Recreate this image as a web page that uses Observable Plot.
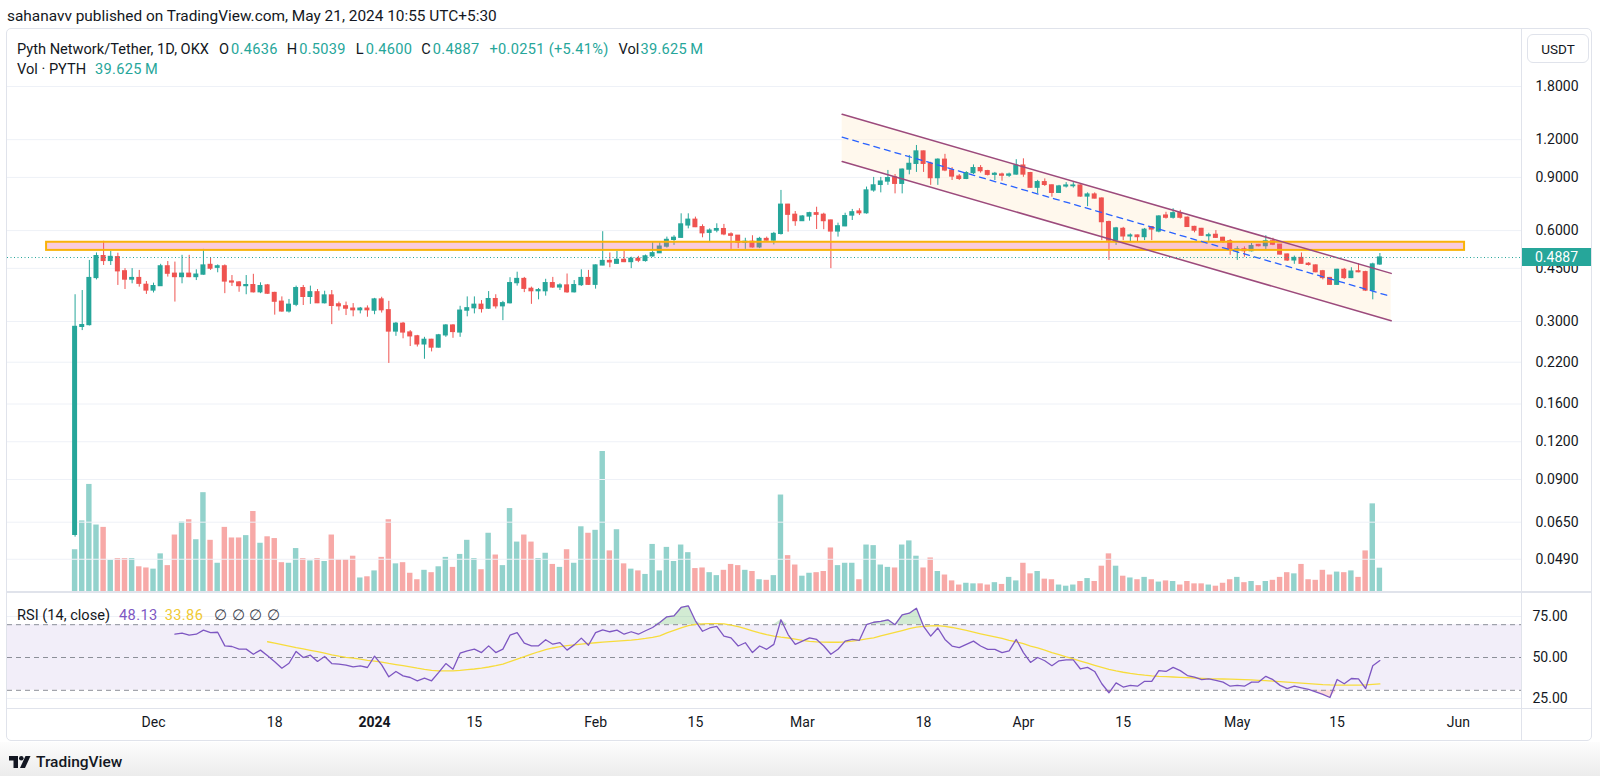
<!DOCTYPE html>
<html><head><meta charset="utf-8">
<script src="https://cdn.jsdelivr.net/npm/d3@7"></script>
<script src="https://cdn.jsdelivr.net/npm/@observablehq/plot@0.6"></script>
<style>
html,body{margin:0;padding:0;background:#fff;}
body{width:1600px;height:776px;position:relative;overflow:hidden;font-family:Roboto,"Noto Sans",sans-serif;color:#131722;}
.abs{position:absolute;white-space:nowrap;}
.t{color:#131722}.g{color:#26a69a;letter-spacing:0.3px}
</style></head><body>
<script>
// ---------- data ----------
const firstDay = "2023-11-20";
const lastDayExclusive = "2024-05-22";
const open = [
0.059,0.288,0.292,0.418,0.494,0.476,0.490,0.440,0.413,0.418,
0.397,0.380,0.393,0.457,0.432,0.421,0.432,0.421,0.429,0.462,
0.452,0.457,0.407,0.404,0.393,0.396,0.375,0.395,0.373,0.349,
0.324,0.341,0.387,0.362,0.375,0.345,0.366,0.342,0.337,0.331,
0.327,0.331,0.326,0.355,0.327,0.278,0.295,0.276,0.268,0.252,
0.261,0.246,0.270,0.291,0.276,0.326,0.332,0.341,0.331,0.356,
0.337,0.345,0.402,0.415,0.385,0.378,0.378,0.402,0.389,0.395,
0.375,0.396,0.418,0.397,0.460,0.476,0.466,0.480,0.472,0.484,
0.476,0.493,0.505,0.531,0.559,0.568,0.624,0.652,0.616,0.590,
0.600,0.607,0.583,0.577,0.547,0.551,0.528,0.563,0.556,0.585,
0.731,0.677,0.645,0.668,0.685,0.677,0.648,0.596,0.620,0.673,
0.694,0.685,0.815,0.850,0.872,0.900,0.857,0.955,0.998,1.097,
0.998,0.895,1.030,0.949,0.906,0.890,0.930,0.966,0.944,0.918,
0.920,0.912,0.920,0.985,0.930,0.832,0.868,0.847,0.800,0.840,
0.842,0.846,0.778,0.790,0.766,0.640,0.556,0.608,0.574,0.578,
0.571,0.616,0.596,0.673,0.662,0.685,0.662,0.617,0.608,0.575,
0.581,0.568,0.553,0.516,0.520,0.513,0.538,0.533,0.553,0.539,
0.500,0.478,0.487,0.466,0.460,0.440,0.418,0.397,0.445,0.418,
0.440,0.437,0.380,0.4636];
const high = [
0.368,0.380,0.478,0.506,0.553,0.512,0.505,0.449,0.449,0.443,
0.407,0.402,0.464,0.474,0.472,0.497,0.497,0.445,0.520,0.488,
0.462,0.462,0.426,0.407,0.426,0.430,0.403,0.398,0.375,0.362,
0.355,0.393,0.395,0.393,0.383,0.378,0.380,0.348,0.348,0.344,
0.334,0.338,0.358,0.361,0.350,0.298,0.298,0.280,0.270,0.266,
0.262,0.272,0.293,0.293,0.337,0.362,0.362,0.352,0.377,0.368,
0.350,0.419,0.437,0.420,0.390,0.386,0.414,0.420,0.400,0.431,
0.410,0.445,0.443,0.462,0.595,0.506,0.512,0.512,0.490,0.493,
0.498,0.550,0.547,0.571,0.577,0.682,0.682,0.665,0.627,0.608,
0.632,0.629,0.590,0.578,0.566,0.577,0.570,0.571,0.592,0.815,
0.733,0.694,0.672,0.690,0.717,0.685,0.650,0.635,0.685,0.705,
0.709,0.836,0.900,0.900,0.949,0.920,0.960,1.064,1.148,1.100,
1.010,1.037,1.073,0.970,0.920,0.940,0.990,0.985,0.950,0.935,
0.930,0.930,1.030,1.037,0.935,0.880,0.890,0.850,0.847,0.865,
0.865,0.850,0.800,0.800,0.770,0.645,0.615,0.615,0.585,0.580,
0.610,0.618,0.672,0.690,0.709,0.700,0.665,0.620,0.610,0.588,
0.600,0.570,0.560,0.531,0.530,0.544,0.540,0.577,0.566,0.540,
0.502,0.494,0.506,0.470,0.462,0.443,0.420,0.447,0.450,0.452,
0.466,0.440,0.468,0.5039];
const low = [
0.058,0.280,0.290,0.412,0.460,0.460,0.395,0.383,0.400,0.390,
0.369,0.373,0.392,0.421,0.348,0.400,0.419,0.410,0.427,0.443,
0.435,0.371,0.392,0.375,0.368,0.373,0.371,0.369,0.315,0.322,
0.320,0.336,0.339,0.342,0.344,0.343,0.293,0.325,0.314,0.311,
0.318,0.310,0.316,0.320,0.218,0.268,0.263,0.248,0.247,0.225,
0.238,0.245,0.266,0.264,0.266,0.311,0.318,0.320,0.329,0.330,
0.302,0.343,0.393,0.374,0.342,0.354,0.364,0.386,0.380,0.372,
0.373,0.392,0.395,0.384,0.459,0.452,0.464,0.470,0.449,0.470,
0.472,0.490,0.504,0.525,0.536,0.566,0.608,0.614,0.568,0.551,
0.590,0.577,0.520,0.523,0.520,0.525,0.523,0.554,0.538,0.580,
0.593,0.620,0.643,0.645,0.605,0.604,0.449,0.571,0.618,0.648,
0.673,0.680,0.804,0.800,0.847,0.794,0.794,0.918,0.935,0.935,
0.847,0.847,0.940,0.879,0.879,0.885,0.920,0.930,0.910,0.879,
0.874,0.900,0.915,0.901,0.830,0.794,0.840,0.774,0.798,0.830,
0.830,0.774,0.720,0.764,0.556,0.478,0.536,0.556,0.547,0.550,
0.556,0.556,0.590,0.655,0.655,0.655,0.615,0.590,0.575,0.553,
0.565,0.544,0.497,0.478,0.490,0.510,0.530,0.518,0.535,0.498,
0.474,0.464,0.465,0.458,0.435,0.412,0.396,0.395,0.413,0.416,
0.435,0.377,0.354,0.4600];
const close = [
0.288,0.292,0.418,0.494,0.476,0.491,0.440,0.413,0.418,0.400,
0.380,0.393,0.457,0.432,0.421,0.432,0.421,0.429,0.460,0.449,
0.457,0.407,0.404,0.393,0.396,0.375,0.393,0.371,0.349,0.324,
0.341,0.387,0.362,0.375,0.345,0.366,0.338,0.337,0.331,0.327,
0.331,0.327,0.355,0.327,0.278,0.295,0.276,0.268,0.252,0.261,
0.246,0.270,0.291,0.277,0.326,0.332,0.341,0.330,0.356,0.337,
0.345,0.402,0.415,0.385,0.378,0.381,0.402,0.389,0.395,0.375,
0.396,0.418,0.397,0.460,0.476,0.471,0.480,0.472,0.484,0.477,
0.493,0.505,0.531,0.559,0.568,0.629,0.652,0.616,0.588,0.600,
0.607,0.583,0.577,0.547,0.551,0.528,0.563,0.556,0.585,0.731,
0.677,0.645,0.668,0.685,0.677,0.645,0.596,0.620,0.670,0.690,
0.685,0.815,0.847,0.872,0.895,0.857,0.955,0.998,1.097,0.998,
0.895,1.030,0.949,0.906,0.890,0.930,0.966,0.944,0.918,0.925,
0.912,0.920,0.985,0.920,0.832,0.868,0.850,0.800,0.840,0.846,
0.846,0.778,0.790,0.766,0.640,0.556,0.610,0.574,0.578,0.571,
0.604,0.605,0.668,0.662,0.685,0.662,0.617,0.600,0.577,0.579,
0.568,0.550,0.516,0.520,0.513,0.533,0.533,0.553,0.539,0.500,
0.478,0.487,0.466,0.462,0.437,0.418,0.397,0.445,0.418,0.439,
0.437,0.380,0.4636,0.4887];
// volume, millions of PYTH
const volume = [
71,120,182,113,109,53,56,56,56,42,
40,38,64,44,96,118,122,88,168,87,
48,109,91,91,95,136,82,93,90,49,
48,73,56,52,56,51,96,54,54,60,
23,25,35,58,122,47,49,31,20,36,
32,42,58,41,63,87,56,37,99,62,
44,141,84,96,84,56,65,46,41,71,
48,110,99,104,238,69,105,47,38,35,
29,80,35,75,51,79,66,39,40,32,
27,36,46,44,36,34,20,19,27,164,
61,45,26,31,32,34,74,44,48,48,
20,79,78,45,41,40,79,86,60,40,
57,34,28,18,11,14,13,13,11,15,
12,24,18,48,30,34,21,20,11,9,
11,17,22,17,43,64,43,26,23,20,
24,20,16,18,17,11,17,13,13,11,
9,14,20,24,15,17,10,17,19,24,
32,30,46,20,19,36,28,33,32,35,
24,69,149,39.625];
const rsi = [
null,null,null,null,null,null,null,null,null,null,null,null,null,null,
64.2,64.8,63.6,64.2,66.7,65.2,65.4,57.1,56.7,55.1,
55.1,52.0,54.5,51.0,47.4,43.5,46.5,53.7,50.0,51.4,
47.6,50.6,46.3,45.9,45.3,44.3,44.9,43.9,50.8,45.5,
38.2,41.5,38.8,37.8,35.8,37.4,35.8,40.9,46.3,42.9,
52.6,54.1,55.1,53.0,57.1,53.0,55.1,63.6,65.2,58.7,
57.1,57.1,60.8,58.1,59.1,54.5,57.7,61.8,57.5,65.2,
66.9,65.7,66.7,64.2,65.7,64.2,66.3,68.3,71.3,74.8,
75.4,80.5,81.5,72.4,66,68,69,63,62,57,
59,53,57,55,58,73,64,58,60,62,
61,57,52,55,60,61,60.5,70,71.5,72,
73,70,76,77,80,69,63,68,61,57,
56,58,60,57,55,55,53,54,61,53,
47,50,48,45,48,48.5,48.5,43,44,41.5,
34,28.5,34.5,32,33,32.5,35.5,35.5,42,41.5,
44,42,39,38,36.5,37,36,35,32.5,33,
32.5,35,35,38.5,36.5,33,31,32.5,31.5,30.5,
29,27.5,25.6,36.6,34,37.2,37,31.1,45,48.13];
const rsiMa = [
null,null,null,null,null,null,null,null,null,null,null,null,null,null,
null,null,null,null,null,null,null,null,null,null,null,null,null,
59.6,58.8,57.8,56.9,56.0,55.2,54.4,53.6,52.6,51.6,
50.8,50.1,49.6,49.0,48.3,47.8,47.2,46.4,45.7,45.0,
44.3,43.5,42.8,42.2,41.9,41.8,41.9,42.2,42.6,43.0,
43.5,44.2,45.0,46.0,47.5,49.0,50.5,52.0,53.5,54.8,
55.8,56.6,57.2,57.7,58.2,58.6,59.0,59.4,59.7,60.0,
60.3,60.6,61.0,61.6,62.3,63.2,65.0,66.5,68.0,69.5,
70.2,70.5,70.7,70.7,70.5,69.8,68.8,67.6,66.3,65.0,
63.9,63.0,62.4,61.9,61.2,60.4,59.8,59.5,59.4,59.3,
59.3,59.5,60.0,60.6,61.3,62.0,63.2,64.3,65.3,66.4,
67.6,68.5,69.0,69.3,69.4,69.0,68.3,67.4,66.5,65.4,
64.4,63.5,62.6,61.6,60.5,59.6,58.4,57.0,55.8,54.5,
53.0,51.8,50.4,49.2,47.8,46.5,45.2,44.0,42.8,41.8,
41.0,40.3,39.7,39.2,38.8,38.5,38.3,38.1,37.9,37.7,
37.5,37.3,37.1,37.0,36.9,36.8,36.7,36.5,36.3,36.1,
35.9,35.6,35.3,35.0,34.7,34.4,34.1,33.8,33.5,33.3,
33.2,33.1,33.1,33.2,33.3,33.6,33.86];
const priceTicks = [1.8, 1.2, 0.9, 0.6, 0.45, 0.3, 0.22, 0.16, 0.12, 0.09, 0.065, 0.049];
const rsiTicks = [75, 50, 25];
const rsiBands = [70, 50, 30];
const timeTickDates = ["2023-12-01","2023-12-18","2024-01-15","2024-02-01","2024-02-15","2024-03-01","2024-03-18","2024-04-01","2024-04-15","2024-05-01","2024-05-15","2024-06-01"];
const timeTickLabels = ["Dec","18","15","Feb","15","Mar","18","Apr","15","May","15","Jun"];
const yearTickDate = "2024-01-01", yearTickLabel = "2024";
// drawings
const zoneTime = ["2023-11-16T00:00:00Z", "2024-06-01T21:00:00Z"];
const zonePrice = [0.516, 0.549];
const channelTime = ["2024-03-06T14:00:00Z", "2024-05-22T14:00:00Z"];
const channelUpper = [1.456, 0.433];
const channelMiddle = [1.223, 0.363];
const channelLower = [1.016, 0.302];
const lastPrice = 0.4887;

// ---------- build ----------
const UP = "#26a69a", DOWN = "#ef5350";
const dates = d3.utcDay.range(new Date(firstDay), new Date(lastDayExclusive));
const bars = dates.map((date, i) => ({date, o: open[i], h: high[i], l: low[i], c: close[i], v: volume[i], rsi: rsi[i], ma: rsiMa[i]}));
const isUp = d => d.c >= d.o, isDown = d => d.c < d.o;
const DAY = 864e5;
const x1 = k => d => new Date(+d.date - k * DAY), x2 = k => d => new Date(+d.date + k * DAY);
const t0 = Date.UTC(2023, 10, 20);
const xDomain = [new Date(t0 - 9.48 * DAY), new Date(t0 + 202.86 * DAY)];
const common = (h, mb) => ({width: 1600, height: h, marginLeft: 7, marginRight: 79, marginTop: 0, marginBottom: mb,
  x: {type: "utc", domain: xDomain, axis: null}});
const baseStyle = top => ({background: "none", position: "absolute", left: "0px", top: top + "px", overflow: "visible",
  fontFamily: "Roboto, 'Noto Sans', sans-serif", fontSize: "14px", color: "#131722", maxWidth: "none"});

const add = (html, css) => { const d = document.createElement("div"); d.className = "abs"; d.innerHTML = html; Object.assign(d.style, css); document.body.appendChild(d); return d; };

// footer + frame
add("", {left: "0px", top: "742px", width: "1600px", height: "34px", background: "linear-gradient(#fdfdfd,#ececec)"});
add("", {left: "6px", top: "28px", width: "1584px", height: "711px", border: "1px solid #e0e3eb", borderRadius: "5px", background: "#fff"});

// volume plot (behind candles)
const volPlot = Plot.plot({
  ...common(564, 1),
  y: {domain: [0, 957.1], axis: null},
  style: baseStyle(28),
  marks: [
    Plot.rect(bars, {filter: isUp, x1: x1(0.38), x2: x2(0.38), y1: 0, y2: "v", fill: UP, fillOpacity: 0.5}),
    Plot.rect(bars, {filter: isDown, x1: x1(0.38), x2: x2(0.38), y1: 0, y2: "v", fill: DOWN, fillOpacity: 0.5})
  ]
});
document.body.appendChild(volPlot);

const cIdx = [0, 1];
const pricePlot = Plot.plot({
  ...common(564, 0),
  y: {type: "log", domain: [0.03803, 2.8003], axis: null},
  style: baseStyle(28),
  marks: [
    Plot.ruleY(priceTicks, {stroke: "#eef1f7"}),
    Plot.areaY(cIdx, {x: i => new Date(channelTime[i]), y1: i => channelLower[i], y2: i => channelUpper[i], fill: "#fff1dc", fillOpacity: 0.5}),
    Plot.ruleX(bars, {filter: isUp, x: "date", y1: "l", y2: "h", stroke: UP}),
    Plot.ruleX(bars, {filter: isDown, x: "date", y1: "l", y2: "h", stroke: DOWN}),
    Plot.rect(bars, {filter: isUp, x1: x1(0.35), x2: x2(0.35), y1: d => Math.min(d.o, d.c), y2: d => Math.max(d.o, d.c), fill: UP, insetTop: -0.6, insetBottom: -0.6}),
    Plot.rect(bars, {filter: isDown, x1: x1(0.35), x2: x2(0.35), y1: d => Math.min(d.o, d.c), y2: d => Math.max(d.o, d.c), fill: DOWN, insetTop: -0.6, insetBottom: -0.6}),
    Plot.rect([0], {x1: new Date(zoneTime[0]), x2: new Date(zoneTime[1]), y1: zonePrice[0], y2: zonePrice[1], fill: "#f06292", fillOpacity: 0.33, stroke: "#f9b208", strokeWidth: 2}),
    Plot.line(cIdx, {x: i => new Date(channelTime[i]), y: i => channelUpper[i], stroke: "#9c4a7c", strokeWidth: 1.5}),
    Plot.line(cIdx, {x: i => new Date(channelTime[i]), y: i => channelLower[i], stroke: "#9c4a7c", strokeWidth: 1.5}),
    Plot.line(cIdx, {x: i => new Date(channelTime[i]), y: i => channelMiddle[i], stroke: "#2962ff", strokeWidth: 1.3, strokeDasharray: "6,5"}),
    Plot.ruleY([lastPrice], {stroke: UP, strokeDasharray: "1,2.5", strokeWidth: 1}),
    Plot.axisY(priceTicks, {anchor: "right", tickSize: 0, tickPadding: 14, tickFormat: d3.format(".4f"), fontSize: 14})
  ]
});
document.body.appendChild(pricePlot);

const rsiDef = bars.filter(d => d.rsi != null);
const rsiPlot = Plot.plot({
  ...common(149, 32),
  y: {domain: [18.293, 89.634], axis: null},
  style: baseStyle(592),
  marks: [
    Plot.ruleY([75, 25], {stroke: "#eef1f7"}),
    Plot.rect([0], {y1: 30, y2: 70, fill: "#7e57c2", fillOpacity: 0.1}),
    Plot.areaY(rsiDef, {x: "date", y1: 70, y2: d => Math.max(d.rsi, 70), fill: "#4caf50", fillOpacity: 0.25}),
    Plot.areaY(rsiDef, {x: "date", y1: d => Math.min(d.rsi, 30), y2: 30, fill: "#ef5350", fillOpacity: 0.2}),
    Plot.ruleY(rsiBands, {stroke: "#8c8f98", strokeDasharray: "5,4"}),
    Plot.line(bars, {x: "date", y: "ma", stroke: "#f7dc3c", strokeWidth: 1.3}),
    Plot.line(bars, {x: "date", y: "rsi", stroke: "#7e57c2", strokeWidth: 1.3}),
    Plot.axisY(rsiTicks, {anchor: "right", tickSize: 0, tickPadding: 11, tickFormat: d3.format(".2f"), fontSize: 14}),
    Plot.text(timeTickDates, {x: d => new Date(d), text: (d, i) => timeTickLabels[i], frameAnchor: "bottom", dy: 17, fontSize: 14, fill: "#131722"}),
    Plot.text([yearTickDate], {x: d => new Date(d), text: () => yearTickLabel, frameAnchor: "bottom", dy: 17, fontSize: 14, fontWeight: "bold", fill: "#131722"})
  ]
});
document.body.appendChild(rsiPlot);

// separators
add("", {left: "7px", top: "591px", width: "1584px", height: "2px", background: "#e0e3eb"});
add("", {left: "7px", top: "708px", width: "1584px", height: "1px", background: "#e0e3eb"});
add("", {left: "1521px", top: "29px", width: "1px", height: "711px", background: "#e0e3eb"});

// header + legends
add("sahanavv published on TradingView.com, May 21, 2024 10:55 UTC+5:30", {left: "7px", top: "6px", fontSize: "15.4px", lineHeight: "21px"});
const sp = (cls, txt, ml) => `<span class="${cls}" style="margin-left:${ml}px">${txt}</span>`;
add(sp("t", "Pyth Network/Tether, 1D, OKX", 0) + sp("t", "O", 10) + sp("g", "0.4636", 2) + sp("t", "H", 9) + sp("g", "0.5039", 2)
  + sp("t", "L", 10) + sp("g", "0.4600", 2) + sp("t", "C", 9) + sp("g", "0.4887", 2) + sp("g", "+0.0251 (+5.41%)", 10)
  + sp("t", "Vol", 10) + sp("g", "39.625&thinsp;M", 1), {left: "17px", top: "39px", fontSize: "14.6px", lineHeight: "20px"});
add(sp("t", "Vol · PYTH", 0) + sp("g", "39.625&thinsp;M", 9), {left: "17px", top: "59px", fontSize: "14.6px", lineHeight: "20px"});
add(`<span>RSI (14, close)</span><span style="color:#7e57c2;margin-left:9px;letter-spacing:0.4px">48.13</span><span style="color:#f0c932;margin-left:7px;letter-spacing:0.4px">33.86</span><span style="color:#434651;margin-left:11px;letter-spacing:4.5px">∅∅∅∅</span>`,
  {left: "17px", top: "605px", fontSize: "14.6px", lineHeight: "20px"});

// axis unit box and last price tag
add("USDT", {left: "1527px", top: "34px", width: "62px", height: "29px", border: "1px solid #e0e3eb", borderRadius: "6px", fontSize: "13.5px", lineHeight: "29px", textAlign: "center", background: "#fff", boxSizing: "border-box"});
const yTag = 28 + pricePlot.scale("y").apply(lastPrice);
add(d3.format(".4f")(lastPrice), {left: "1522px", top: (yTag - 9) + "px", width: "69px", height: "18px", background: UP, color: "#fff", fontSize: "14px", lineHeight: "18px", paddingLeft: "13px", boxSizing: "border-box"});

// footer logo
add(`<svg width="22" height="12" viewBox="0 0 22 12" style="vertical-align:-1px"><path d="M0 0H9V12H4.5V4.5H0Z" fill="#131722"/><circle cx="12.3" cy="2.3" r="2.3" fill="#131722"/><path d="M16.5 0H21.5L16 12H11Z" fill="#131722"/></svg><span style="margin-left:5px;font-weight:500">TradingView</span>`,
  {left: "9px", top: "752px", fontSize: "15.5px", lineHeight: "20px"});
</script>
</body></html>
